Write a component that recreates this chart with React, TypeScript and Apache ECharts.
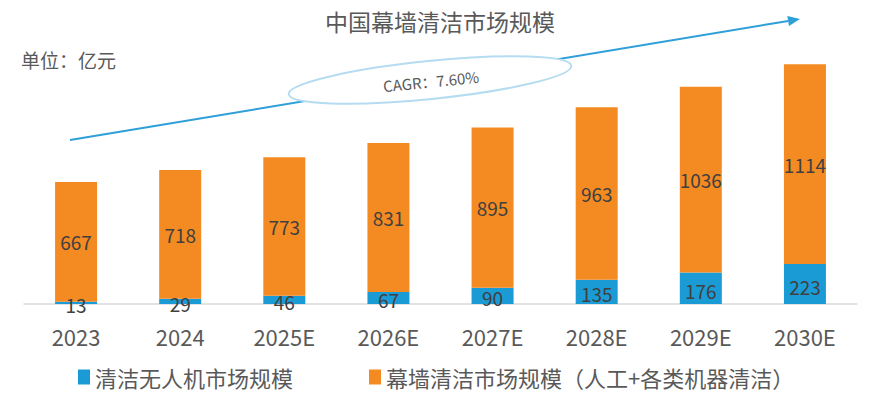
import React, { useEffect, useRef } from "react";
import * as echarts from "echarts";

const categories = ["2023", "2024", "2025E", "2026E", "2027E", "2028E", "2029E", "2030E"];
const droneValues = [13, 29, 46, 67, 90, 135, 176, 223];
const curtainWallValues = [667, 718, 773, 831, 895, 963, 1036, 1114];
const seriesNames = ["清洁无人机市场规模", "幕墙清洁市场规模（人工+各类机器清洁）"];
const titleText = "中国幕墙清洁市场规模";
const unitText = "单位：亿元";
const cagrText = "CAGR：7.60%";

const FONT = "'Noto Sans CJK SC', 'Noto Sans', sans-serif";
const TEXT_COLOR = "#595959";
const LABEL_COLOR = "#404040";

export default function App() {
  const ref = useRef<HTMLDivElement>(null);

  useEffect(() => {
    document.body.style.margin = "0";
    if (!ref.current) return;
    const chart = echarts.init(ref.current, null, { renderer: "svg" });
    const tip = [800, 19];
    const start = [70, 140];
    const dx = tip[0] - start[0];
    const dy = tip[1] - start[1];
    const len = Math.sqrt(dx * dx + dy * dy);
    const ux = dx / len, uy = dy / len;
    const nx = -uy, ny = ux;
    const headL = 12, headW = 5;
    const bx = tip[0] - headL * ux, by = tip[1] - headL * uy;

    chart.setOption({
      animation: false,
      textStyle: { fontFamily: FONT },
      grid: { left: 24, right: 23, top: 53, bottom: 94 },
      xAxis: {
        type: "category",
        data: categories,
        axisLine: { lineStyle: { color: "#d9d9d9", width: 1.5 } },
        axisTick: { show: false },
        axisLabel: { color: TEXT_COLOR, fontSize: 22, margin: 21, fontFamily: FONT },
      },
      yAxis: {
        type: "value",
        min: 0,
        max: 1400,
        show: false,
        splitLine: { show: false },
      },
      legend: {
        top: 361,
        left: 73,
        icon: "rect",
        itemWidth: 12,
        itemHeight: 15,
        itemGap: 76,
        textStyle: { color: TEXT_COLOR, fontSize: 22, fontFamily: FONT },
        data: seriesNames,
      },
      series: [
        {
          name: seriesNames[0],
          type: "bar",
          stack: "total",
          data: droneValues,
          barWidth: 42,
          itemStyle: { color: "#1b9bd5" },
          label: {
            show: true,
            position: "inside",
            color: LABEL_COLOR,
            fontSize: 19,
            fontFamily: FONT,
            offset: [0, 2],
          },
        },
        {
          name: seriesNames[1],
          type: "bar",
          stack: "total",
          data: curtainWallValues,
          barWidth: 42,
          itemStyle: { color: "#f48b22" },
          label: {
            show: true,
            position: "inside",
            color: LABEL_COLOR,
            fontSize: 19,
            fontFamily: FONT,
          },
        },
      ],
      graphic: [
        {
          type: "text",
          left: "center",
          top: 9,
          style: { text: titleText, fill: TEXT_COLOR, fontSize: 23, fontFamily: FONT },
        },
        {
          type: "text",
          left: 21,
          top: 50,
          style: { text: unitText, fill: TEXT_COLOR, fontSize: 19, fontFamily: FONT },
        },
        {
          type: "line",
          shape: { x1: start[0], y1: start[1], x2: bx, y2: by },
          style: { stroke: "#2e9fd8", lineWidth: 2 },
          z: 10,
        },
        {
          type: "polygon",
          shape: {
            points: [
              [tip[0], tip[1]],
              [bx + headW * nx, by + headW * ny],
              [bx - headW * nx, by - headW * ny],
            ],
          },
          style: { fill: "#2e9fd8" },
          z: 10,
        },
        {
          type: "ellipse",
          x: 430,
          y: 80,
          rotation: 0.1,
          shape: { cx: 0, cy: 0, rx: 142, ry: 19 },
          style: { fill: "#ffffff", stroke: "#b5dcf0", lineWidth: 2 },
          z: 11,
        },
        {
          type: "text",
          x: 431,
          y: 81,
          rotation: 0.1,
          style: {
            text: cagrText,
            fill: TEXT_COLOR,
            fontSize: 15,
            fontFamily: FONT,
            align: "center",
            verticalAlign: "middle",
          },
          z: 12,
        },
      ],
    });
    return () => chart.dispose();
  }, []);

  return <div ref={ref} style={{ width: 880, height: 398 }} />;
}
